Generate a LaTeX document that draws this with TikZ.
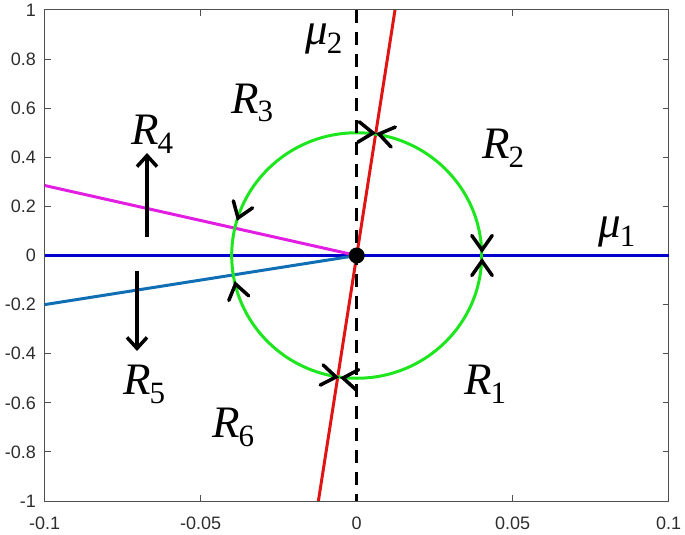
\documentclass[tikz,border=0pt]{standalone}
\usepackage{fontspec}
\setsansfont{Liberation Sans}
\newfontfamily\lblfont{Liberation Serif}
\usetikzlibrary{arrows.meta}
\definecolor{axgray}{RGB}{80,80,80}
\definecolor{tickc}{RGB}{45,45,45}
\definecolor{mblue}{RGB}{0,0,205}
\definecolor{mmag}{RGB}{225,30,225}
\definecolor{mteal}{RGB}{15,110,180}
\definecolor{mred}{RGB}{225,20,20}
\definecolor{mgreen}{RGB}{30,230,30}
\newcommand\lblR[2]{{\lblfont\fontsize{45}{48}\selectfont\itshape #1}\kern-1pt\raisebox{-9pt}{\lblfont\fontsize{31}{34}\selectfont #2}}
\newcommand\chevat[3]{\draw[chevron, shift={(#1,#2)}, rotate=#3] (-14.5,10.2) -- (0,0) -- (-14.5,-10.2);}
\tikzset{
  chevron/.style={line width=3.5pt, black, line cap=round, line join=miter},
  lab/.style={anchor=base west, inner sep=0pt, text=black},
  ticklab/.style={font=\sffamily\fontsize{18}{20}\selectfont, text=tickc, inner sep=0pt},
  plotline/.style={line width=3pt},
  barrow/.style={line width=3.5pt, -{Straight Barb[length=11pt,width=20pt]}}
}
\begin{document}
\begin{tikzpicture}[x=1pt,y=1pt]
\useasboundingbox (0,0) rectangle (685,-535);
% axes box
\draw[axgray, line width=1pt] (44.7,-10) rectangle (668.7,-501);
% y ticks and labels
\foreach \v/\t in {1/1,0.8/0.8,0.6/0.6,0.4/0.4,0.2/0.2,0/0,-0.2/-0.2,-0.4/-0.4,-0.6/-0.6,-0.8/-0.8,-1/-1}{
  \pgfmathsetmacro\py{-(255.5-\v*245.5)}
  \draw[axgray, line width=1pt] (44.7,\py) -- (50.7,\py);
  \draw[axgray, line width=1pt] (668.7,\py) -- (662.7,\py);
  \node[ticklab, anchor=east] at (36,\py) {\t};
}
% x ticks and labels
\foreach \v/\t in {-0.1/-0.1,-0.05/-0.05,0/0,0.05/0.05,0.1/0.1}{
  \pgfmathsetmacro\px{356.7+\v*3120}
  \draw[axgray, line width=1pt] (\px,-501) -- (\px,-495);
  \draw[axgray, line width=1pt] (\px,-10) -- (\px,-16);
  \node[ticklab] at (\px,-523.5) {\t};
}
\coordinate (O) at (356.7,-255.5);
\coordinate (bl) at (44.7,-255.5);
\coordinate (br) at (668.7,-255.5);
\coordinate (ml) at (44.7,-185.5);
\coordinate (tl) at (44.7,-304.6);
\coordinate (rt) at (395,-10);
\coordinate (rb) at (318.4,-501);
\coordinate (dt) at (356.7,-10);
\coordinate (db) at (356.7,-501);
% lines
\draw[plotline, mblue, line width=3.6pt] (bl) -- (br);
\draw[plotline, mmag] (ml) -- (O);
\draw[plotline, mteal] (tl) -- (O);
\draw[plotline, mred] (rb) -- (rt);
\draw[plotline, mgreen] (O) ellipse [x radius=125, y radius=122.75];
\draw[line width=3pt, black, dash pattern=on 13pt off 9pt] (dt) -- (db);
\fill[black] (O) circle (8);
% chevrons on the circle
\chevat{373}{-133}{-4}
\chevat{379}{-134}{168}
\chevat{482}{-250}{-90}
\chevat{482}{-261}{90}
\chevat{336}{-377}{-8}
\chevat{343}{-378}{173}
\chevat{238}{-218}{250}
\chevat{235.5}{-284}{103}
% region arrows
\coordinate (a4s) at (147,-237);
\coordinate (a4e) at (147,-153);
\coordinate (a5s) at (137,-271);
\coordinate (a5e) at (137,-351);
\draw[barrow] (a4s) -- (a4e);
\draw[barrow] (a5s) -- (a5e);
% labels
\node[lab] (R1) at (464,-394) {\lblR{R}{1}};
\node[lab] (R2) at (482,-158) {\lblR{R}{2}};
\node[lab] (R3) at (231,-113) {\lblR{R}{3}};
\node[lab] (R4) at (131,-144) {\lblR{R}{4}};
\node[lab] (R5) at (123,-394) {\lblR{R}{5}};
\node[lab] (R6) at (212,-437) {\lblR{R}{6}};
\node[lab] (mu1) at (598,-237) {\lblR{μ}{1}};
\node[lab] (mu2) at (305,-45) {\lblR{μ}{2}};
\end{tikzpicture}
\end{document}
